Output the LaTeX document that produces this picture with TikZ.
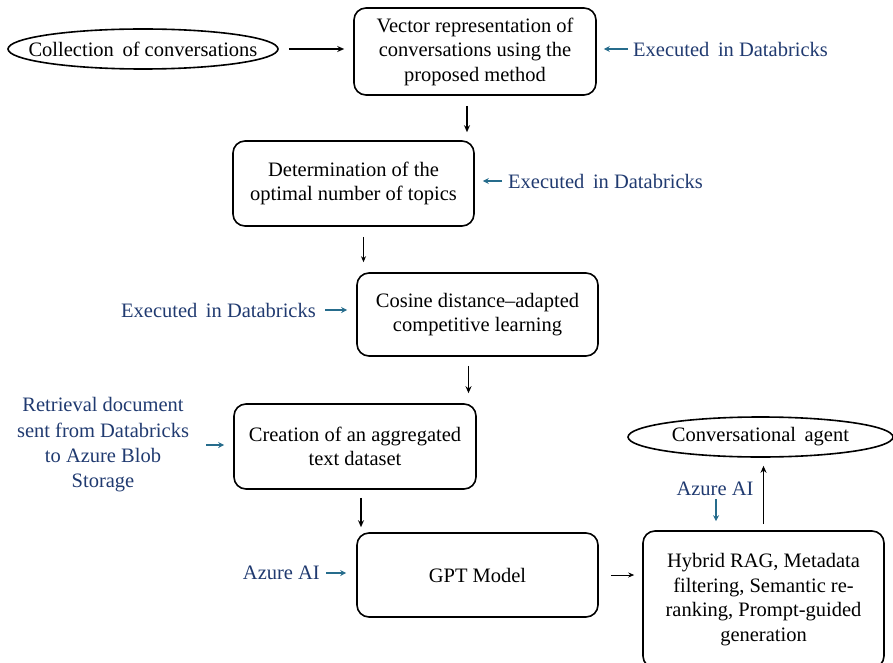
\documentclass[tikz,border=0pt]{standalone}
\usepackage{fontspec}
\setmainfont{Liberation Serif}
\usetikzlibrary{shapes.geometric,arrows.meta}
\definecolor{lblue}{RGB}{32,58,112}
\definecolor{ateal}{RGB}{38,108,140}
\tikzset{
  box/.style={draw, line width=1.6pt, rounded corners=12pt, align=center, inner sep=0pt, font=\fontsize{20.5}{24.5}\selectfont},
  oval/.style={draw, ellipse, line width=1.6pt, inner sep=0pt},
  ovaltext/.style={inner sep=0pt, font=\fontsize{20.5}{24.5}\selectfont},
  lbl/.style={text=lblue, align=center, inner sep=0pt, font=\fontsize{20.5}{25.3}\selectfont},
  blk/.style={line width=1.2pt, -{Stealth[length=7pt,width=6pt]}},
  thin/.style={line width=0.8pt, -{Stealth[length=6pt,width=5pt]}},
  blu/.style={line width=1.4pt, ateal, -{Stealth[length=6pt,width=6pt]}}
}
\begin{document}
\begin{tikzpicture}[x=1pt,y=-1pt]
\useasboundingbox (0,0) rectangle (893,663);
% nodes
\node[oval, minimum width=270, minimum height=40] (c0) at (143,49) {};
\node[ovaltext] (c0t) at (c0) {Collection\, of conversations};
\node[box, minimum width=242, minimum height=87] (b1) at (475,51.5) {Vector representation of\\conversations using the\\proposed method};
\node[box, minimum width=241, minimum height=85] (b2) at (353.5,183.5) {Determination of the\\optimal number of topics};
\node[box, minimum width=241, minimum height=83] (b3) at (477.5,314.5) {Cosine distance--adapted\\competitive learning};
\node[box, minimum width=242, minimum height=85] (b4) at (355,446.5) {Creation of an aggregated\\text dataset};
\node[box, minimum width=241, minimum height=84] (b5) at (477.5,575) {GPT Model};
\node[box, minimum width=241, minimum height=137] (b6) at (763.5,599.5) {Hybrid RAG, Metadata\\filtering, Semantic re-\\ranking, Prompt-guided\\generation};
\node[oval, minimum width=265, minimum height=40] (c1) at (760.5,437) {};
\node[ovaltext] (c1t) at (c1) {Conversational\, agent};
% labels
\node[lbl, anchor=west] (l1) at (633,49) {Executed\, in Databricks};
\node[lbl, anchor=west] (l2) at (508,181) {Executed\, in Databricks};
\node[lbl, anchor=east] (l3) at (316,310) {Executed\, in Databricks};
\node[lbl] (l4) at (103,445) {Retrieval document\\sent from Databricks\\to Azure Blob\\Storage};
\node[lbl, anchor=east] (l5) at (320,573) {Azure AI};
\node[lbl] (l6) at (715,489) {Azure AI};
% black connectors
\draw[blk, shorten <=10pt, shorten >=9pt] (c0.east) -- (c0.east -| b1.west);
\draw[blk, shorten <=10pt, shorten >=8pt] ([xshift=-8pt]b1.south) -- ([xshift=-8pt]b1.south |- b2.north);
\draw[thin, shorten <=10pt, shorten >=10pt] ([xshift=10pt]b2.south) -- ([xshift=10pt]b2.south |- b3.north);
\draw[blk, shorten <=9pt, shorten >=10pt] ([xshift=-9pt]b3.south) -- ([xshift=-9pt]b3.south |- b4.north);
\draw[blk, shorten <=8pt, shorten >=5pt] ([xshift=6pt]b4.south) -- ([xshift=6pt]b4.south |- b5.north);
\draw[thin, shorten <=12pt, shorten >=8pt] (b5.east) -- (b5.east -| b6.west);
\draw[blk, shorten <=6pt, shorten >=8pt] (b6.north) -- (b6.north |- c1.south);
% blue connectors
\draw[blu, shorten <=5pt, shorten >=7pt] (l1.west) -- (l1.west -| b1.east);
\draw[blu, shorten <=6pt, shorten >=8pt] (l2.west) -- (l2.west -| b2.east);
\draw[blu, shorten <=9pt, shorten >=9pt] (l3.east) -- (l3.east -| b3.west);
\draw[blu, shorten <=103pt, shorten >=9pt] (l4.center) -- (l4.center -| b4.west);
\draw[blu, shorten <=6pt, shorten >=10pt] (l5.east) -- (l5.east -| b5.west);
\draw[blu, shorten <=3pt, shorten >=9pt] ([xshift=1pt]l6.south) -- ([xshift=1pt]l6.south |- b6.north);
\end{tikzpicture}
\end{document}
